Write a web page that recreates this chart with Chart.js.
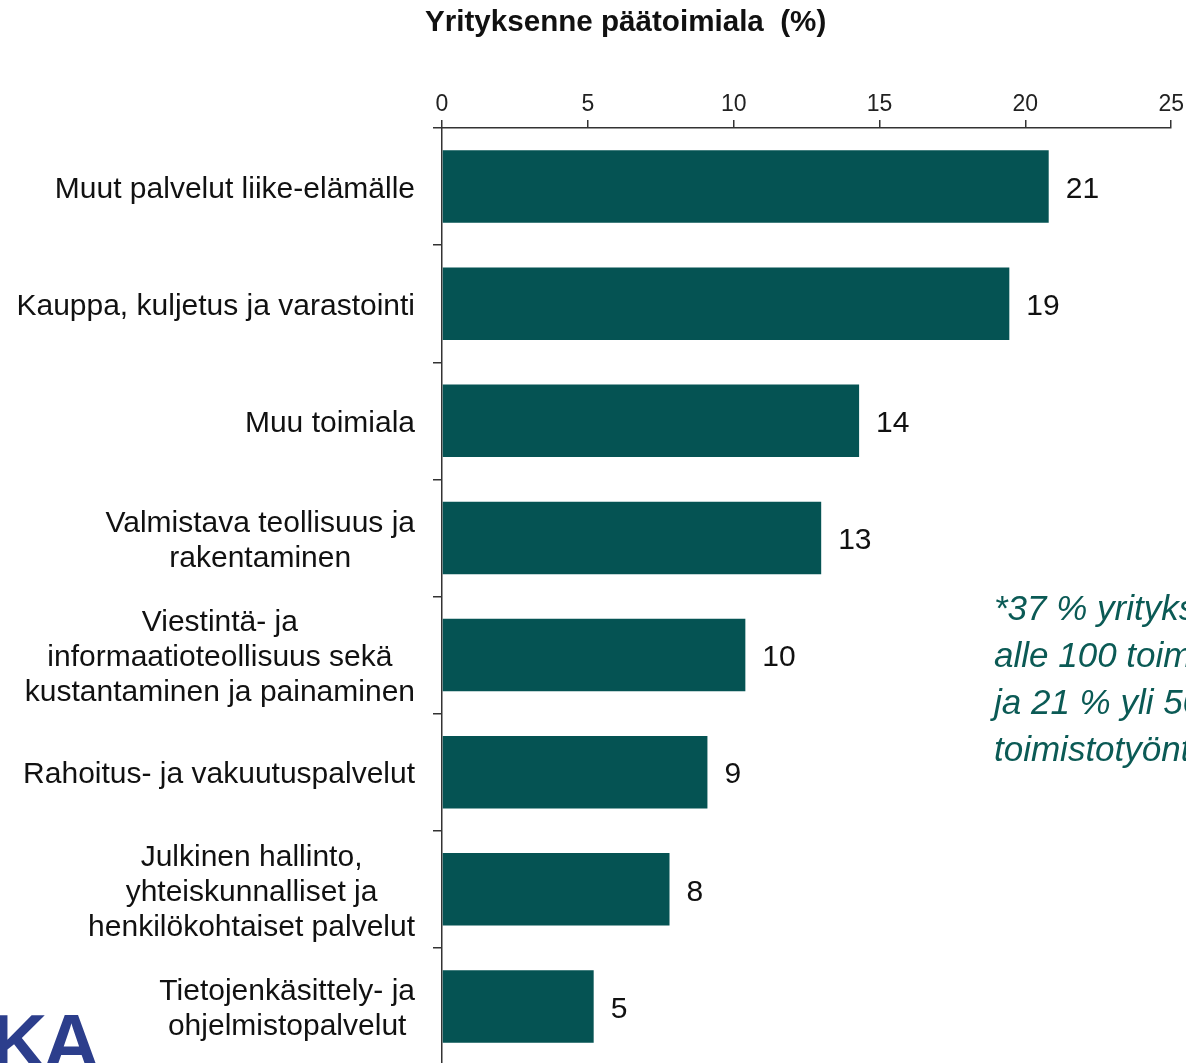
<!DOCTYPE html>
<html lang="fi">
<head>
<meta charset="utf-8">
<title>Yrityksenne päätoimiala (%)</title>
<script src="https://cdn.jsdelivr.net/npm/chart.js@4"></script>
<style>
  html, body { margin: 0; padding: 0; background: #fff; overflow: hidden; }
  #wrap { position: relative; width: 1186px; height: 1063px; overflow: hidden; }
  #chart { position: absolute; left: 0; top: 0; }
  .title {
    position: absolute; left: 425px; top: 4px;
    font: bold 29.6px "Liberation Sans", Arial, sans-serif; color: #111;
    white-space: pre;
  }
  .note {
    position: absolute; left: 994px; top: 584px;
    font: italic 35px "Liberation Sans", Arial, sans-serif; color: #0b5a55;
    line-height: 47px; white-space: nowrap;
  }
  .logo {
    position: absolute; left: -9px; top: 997px;
    font: bold 78px "Liberation Sans", Arial, sans-serif; color: #2c3e8c;
    letter-spacing: -4px;
  }
</style>
</head>
<body>
<div id="wrap">
  <canvas id="chart" width="1186" height="1080"></canvas>
  <div class="title">Yrityksenne päätoimiala  (%)</div>
  <div class="note">*37 % yrityksistä<br>alle 100 toimistotyöntekijää<br>ja 21 % yli 500<br>toimistotyöntekijää</div>
  <div class="logo">KA</div>
</div>
<script>
// toimialat, rivit erotettu taulukoihin
const categories = [
  ['Muut palvelut liike-elämälle'],
  ['Kauppa, kuljetus ja varastointi'],
  ['Muu toimiala'],
  ['Valmistava teollisuus ja', 'rakentaminen'],
  ['Viestintä- ja', 'informaatioteollisuus sekä', 'kustantaminen ja painaminen'],
  ['Rahoitus- ja vakuutuspalvelut'],
  ['Julkinen hallinto,', 'yhteiskunnalliset ja', 'henkilökohtaiset palvelut'],
  ['Tietojenkäsittely- ja', 'ohjelmistopalvelut']
];
const shares = [20.8, 19.45, 14.3, 13.0, 10.4, 9.1, 7.8, 5.2];
const xTicks = [0, 5, 10, 15, 20, 25];

const labelFont = '30px "Liberation Sans", Arial, sans-serif';

// luokkien nimet ja pylväiden arvot piirretään itse
const textPlugin = {
  id: 'barTexts',
  afterDraw(chart) {
    const ctx = chart.ctx;
    const yScale = chart.scales.y;
    ctx.save();
    ctx.font = labelFont;
    ctx.fillStyle = '#111';
    ctx.textBaseline = 'middle';
    ctx.textAlign = 'center';
    categories.forEach((lines, i) => {
      const cy = yScale.getPixelForValue(i) + 3;
      const w = Math.max(...lines.map(l => ctx.measureText(l).width));
      const cx = 415 - w / 2;
      const lh = 35;
      lines.forEach((line, j) => {
        ctx.fillText(line, cx, cy + (j - (lines.length - 1) / 2) * lh);
      });
    });
    ctx.textAlign = 'left';
    chart.getDatasetMeta(0).data.forEach((bar, i) => {
      ctx.fillText(String(Math.round(shares[i])), bar.x + 17, bar.y + 3);
    });
    ctx.restore();
  }
};

new Chart(document.getElementById('chart').getContext('2d'), {
  type: 'bar',
  data: {
    labels: categories.map(c => c.join(' ')),
    datasets: [{
      data: shares,
      backgroundColor: '#055353',
      borderWidth: 0,
      barPercentage: 0.62,
      categoryPercentage: 1
    }]
  },
  options: {
    indexAxis: 'y',
    responsive: false,
    animation: false,
    events: [],
    layout: { padding: { left: 433, right: 11, top: 88, bottom: 15 } },
    plugins: {
      legend: { display: false },
      tooltip: { enabled: false }
    },
    scales: {
      x: {
        position: 'top',
        min: 0,
        max: 25,
        afterBuildTicks: s => { s.ticks = xTicks.map(v => ({ value: v })); },
        afterFit: s => { s.height = 40; },
        border: { color: '#333', width: 1.5 },
        grid: { drawOnChartArea: false, drawTicks: true, tickLength: 8, color: '#333', lineWidth: 1.5 },
        ticks: {
          color: '#222',
          padding: 2,
          font: { family: '"Liberation Sans Narrow", "Liberation Sans", Arial, sans-serif', size: 23 }
        }
      },
      y: {
        afterFit: s => { s.width = 9; },
        border: { color: '#333', width: 1.5 },
        grid: { drawOnChartArea: false, drawTicks: true, tickLength: 9, color: '#333', lineWidth: 1.5, offset: true },
        ticks: { display: false }
      }
    }
  },
  plugins: [textPlugin]
});
</script>
</body>
</html>
